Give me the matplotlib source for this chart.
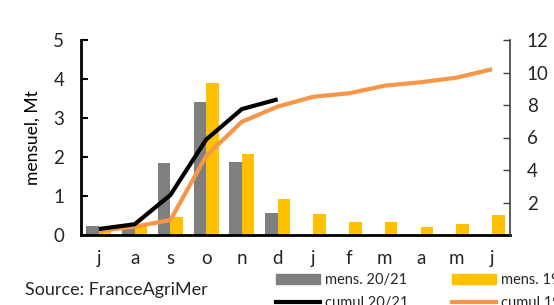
from matplotlib import pyplot as plt
from matplotlib.lines import Line2D
from matplotlib.patches import Patch
import numpy as np

plt.rcParams['font.family'] = ['Lato', 'DejaVu Sans']
plt.rcParams['text.color'] = '#262626'
plt.rcParams['xtick.labelcolor'] = '#262626'
plt.rcParams['ytick.labelcolor'] = '#262626'

months = ['j', 'a', 's', 'o', 'n', 'd', 'j', 'f', 'm', 'a', 'm', 'j']
mens_2021 = [0.22, 0.27, 1.84, 3.41, 1.88, 0.56]
mens_1920 = [0.15, 0.23, 0.46, 3.90, 2.08, 0.92, 0.53, 0.34, 0.33, 0.20, 0.28, 0.51]
cumul_2021 = [0.37, 0.66, 2.46, 5.87, 7.75, 8.35]
cumul_1920 = [0.25, 0.51, 0.92, 4.86, 6.97, 7.90, 8.51, 8.72, 9.19, 9.40, 9.68, 10.20]

GRAY = '#7f7f7f'
YELLOW = '#ffc000'
ORANGE = '#f79646'

fig = plt.figure(figsize=(5.54, 3.05), dpi=100)
ax = fig.add_axes([81 / 554, 70 / 305, 429 / 554, 195 / 305])
ax2 = ax.twinx()

x = np.arange(len(months))
w = 0.35
ax.bar(x[:len(mens_2021)] - w / 2, mens_2021, w, color=GRAY)
ax.bar(x + w / 2, mens_1920, w, color=YELLOW)
ax2.plot(x, cumul_1920, color=ORANGE, lw=3, solid_capstyle='butt')
ax2.plot(x[:len(cumul_2021)], cumul_2021, color='black', lw=3, solid_capstyle='butt')

ax.set_xlim(-0.5, len(months) - 0.5)
ax.set_ylim(0, 5)
ax2.set_ylim(0, 12)
ax.set_xticks(x)
ax.set_xticklabels(months)
ax.set_yticks(range(6))
ax2.set_yticks(range(2, 13, 2))

ax.tick_params(axis='x', length=0, pad=11, labelsize=13.5)
ax.tick_params(axis='y', direction='in', length=5, width=1.5, pad=12, labelsize=13.5)
ax2.tick_params(axis='y', direction='in', length=5, width=1, color='#404040', pad=12, labelsize=13.5)

for a in (ax, ax2):
    a.spines['top'].set_visible(False)
ax.spines['left'].set_linewidth(2)
ax.spines['bottom'].set_linewidth(2)
ax.spines['right'].set_visible(False)
ax2.spines['left'].set_visible(False)
ax2.spines['bottom'].set_visible(False)
ax2.spines['right'].set_color('#404040')
ax2.spines['right'].set_linewidth(1.2)
ax.set_ylabel('mensuel, Mt', fontsize=12.5, labelpad=9)

handles = [Patch(color=GRAY, label='mens. 20/21'),
           Line2D([], [], color='black', lw=3, label='cumul 20/21'),
           Patch(color=YELLOW, label='mens. 19/20'),
           Line2D([], [], color=ORANGE, lw=3, label='cumul 19/20')]
fig.legend(handles=handles, ncol=2, loc='upper left', bbox_to_anchor=(276 / 554, 32 / 305),
           frameon=False, fontsize=10.5, handlelength=3.0, handletextpad=0.35,
           columnspacing=3.0, labelspacing=0.6, borderpad=0, borderaxespad=0)

fig.text(25 / 554, 15 / 305, 'Source: FranceAgriMer', fontsize=13, va='center', ha='left')

fig.savefig('out.png', dpi=100)
